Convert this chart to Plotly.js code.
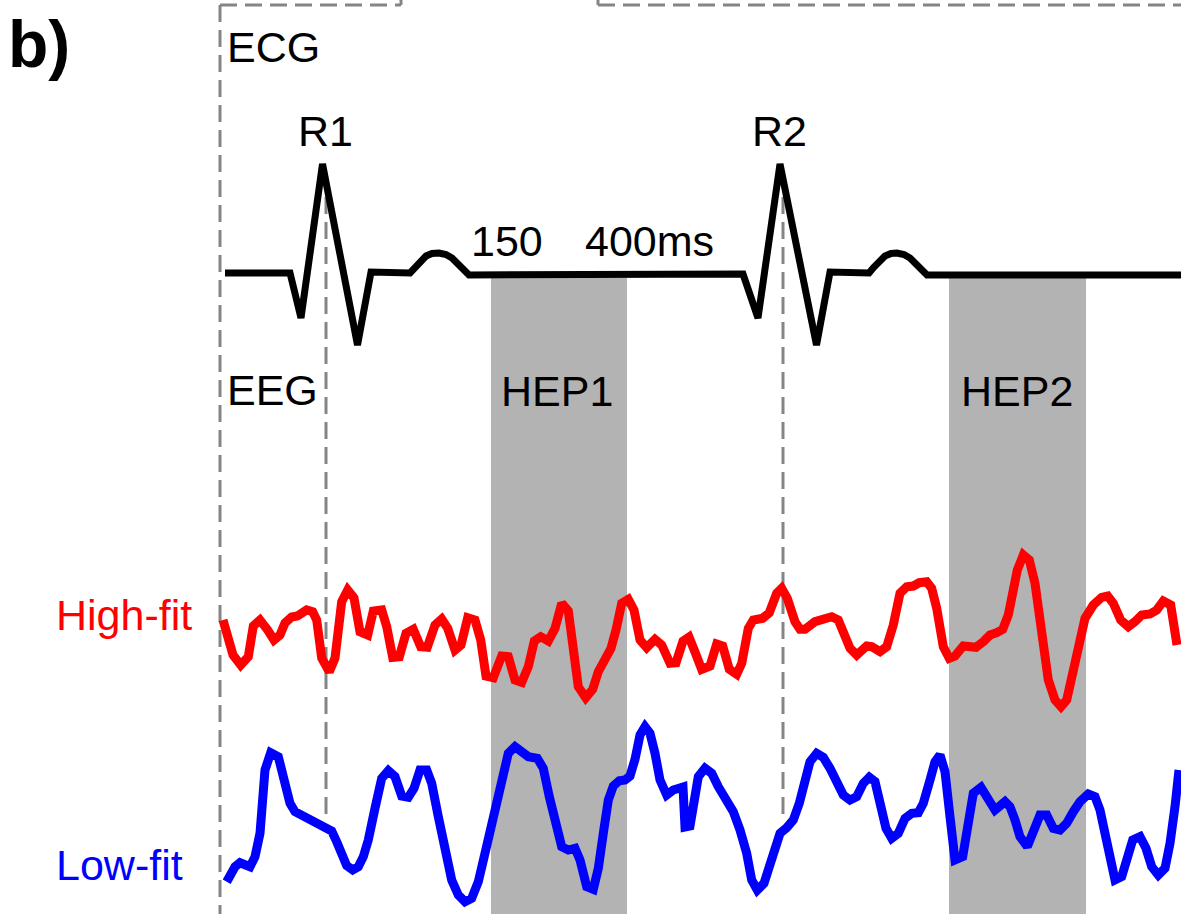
<!DOCTYPE html>
<html>
<head>
<meta charset="utf-8">
<script src="https://cdn.plot.ly/plotly-3.0.1.min.js"></script>
<style>html,body{margin:0;padding:0;background:#fff;}#chart{width:1181px;height:914px;}</style>
</head>
<body>
<div id="chart"></div>
<script>
// ECG trace (time in px units, amplitude in px units, screen-down positive)
const ecgX = [225, 290, 301, 322.5, 357.5, 371, 410, 415, 420, 426, 432, 439, 446, 452, 458, 464, 469,
              743, 758, 780, 816.5, 830, 869, 874, 879, 885, 891, 897, 904, 910, 916, 922, 927, 1181];
const ecgY = [273, 273, 318, 164, 345, 272, 273, 267, 261, 256, 253.5, 253, 254.5, 258, 264, 270, 275,
              274, 318, 164, 345, 272, 273, 267, 261, 256, 253.5, 253, 254.5, 258, 264, 270, 275, 275];

// High-fit EEG trace
const highFitX = [223,233,240.7,248.3,253.3,260,267.7,274,280,285,291.7,297.3,306.7,312.7,316.7,321.7,329.3,335,341.7,347.7,354,360,367.7,373.3,381.7,386.7,392.7,399.3,406,413.3,420.7,427.3,435,441.7,447.7,455,461,467.7,475,480.7,486,493.3,501.7,508.3,515,521.7,528.3,534.3,540.7,548.3,555,561.7,568.3,573.3,578.3,585.7,592.7,598.3,605,611,616,621.7,628.3,634,640,646.7,655,661.7,670,676,683,689,695,701.7,710,716.7,722.7,729.3,736.7,741.7,748.3,753.3,762.7,769.3,776.7,781.7,787.3,795,800,805,815,823.3,831.7,838.3,843.3,850,856.7,866.7,871.7,880,886.7,893.3,900,906.7,913.3,919.3,926.7,931.7,936.7,943.3,949.3,955,963.3,970,976,983.3,990,996.7,1002.7,1008.3,1013.3,1017.3,1023.3,1029.3,1035,1041.7,1048.3,1055,1061,1066.7,1072.7,1080,1085,1093.3,1101.7,1107.7,1113.3,1120.7,1128.3,1135,1141.7,1150,1156.7,1163.3,1170.7,1177];
const highFitY = [620,655,665,656.7,626,620,630,640,635,623,617,616,610,611.7,620,658,671.7,658,601.7,590,598,631.7,635,611,610,626.7,657.3,656.7,633.3,629.3,646.7,647.3,625,619,628.3,650,645,617.7,620,640,676,677.7,656,656.7,680,682.3,666.7,641,636.7,641,628.3,603.3,611,643.3,686.7,697.7,689.3,671.7,660,648.3,630,603.3,599.3,610,640,647.7,639.3,645,663.3,662.7,641,637,652,669.3,666,644,646,669.3,674.3,663.3,628.3,620,618.3,612.7,593.3,588.3,598.3,621.7,629.3,629.3,621.7,619.3,616.7,620,630,648.3,655,646,646.7,651.7,646.7,625,593.3,586.7,586,582.7,581.7,588.3,608.3,646.7,658.3,656,646,646,647.3,641.7,635,632.7,629.3,615,593.3,570,555,560,583.3,626.7,680,700,706.7,700,675,636.7,618.3,605,597.3,596,603.3,620,626.7,621.7,615,614,610,601,605,645];

// Low-fit EEG trace
const lowFitX = [226.7,235,240,250,255,260,265,270.7,278.3,284,290,295,303.3,313.3,320,326,331.7,336.7,346.7,352.7,358.3,363.3,368.3,375,381.7,388.3,395,401.7,408.3,414,420,426.7,431.7,438.3,445,451.7,458.3,465,471.7,478.3,485,493.3,501.7,508.3,515,521.7,528.3,537.3,543.3,549.3,556.7,561.7,568.3,575,580,586.7,593.3,598.3,603.3,608.3,613.3,619.3,625,630,635,640,645,650,655,660,666.7,673.3,683,685,690,694,698.3,705,711.7,718.3,725,733.3,740,746.7,751.7,757.3,764,769.3,775,780,786.7,793.3,799.3,805,810,816.7,823.3,830,836.7,843.3,850,856.7,863.3,869.3,875,880,886,891.7,898.3,905,911.7,918.3,923.3,930,935,940,945,950,955,962.7,968.3,973.3,981,986.7,995,1005,1010,1015,1020,1027.3,1033.3,1040,1046.7,1053.3,1060,1066.7,1073.3,1080,1088.3,1095,1100,1105,1110,1115,1121.7,1126.7,1132.7,1140,1146,1151.7,1158.3,1165,1170,1175,1179];
const lowFitY = [881.7,866.7,862.7,866.7,856.7,833.3,770,752.7,756.7,776.7,803.3,811.7,815.7,822.7,826,827.7,831,841.7,865.7,870,866.7,856.7,840,808.3,778.3,770.7,776.7,796,797.3,788.3,770,770,783.3,816.7,853.3,880,895,901.7,898.3,881.7,853.3,818.3,775,753.3,746.7,751.7,756.7,758.3,768.3,796.7,833.3,846.7,850,848.3,860,886.7,889.3,868.3,833.3,800,786,780.7,780,776,759.3,735,726.7,733.3,753.3,780,795,790,787,827,826,800,776.7,768.3,773.3,786.7,798.3,811.7,830,853.3,880,890,883.3,868.3,846.7,833.3,827.7,820,803.3,780,761.7,753.3,757.3,768.3,781.7,795,800,796.7,783.3,777.3,781.7,800,828.3,838.3,833.3,818.3,813.3,812.7,803.3,780,761.7,755,771.7,816.7,860,856.7,826.7,793.3,787.3,798.3,810,801.7,806.7,820,836.7,846.7,833.3,815,815,828.3,830,823.3,811.7,801.7,794,796.7,810,833.3,866.7,880,876.7,856.7,840,836.7,848.3,866.7,875,868.3,843.3,806.7,770];

// HEP windows (150–400 ms after each R peak)
const hepStart = [491, 949];
const hepEnd = [627, 1086];
const hepLabels = ['HEP1', 'HEP2'];
const rPeakX = [326, 783];
const rLabels = ['R1', 'R2'];

const FONT = 'Liberation Sans, Arial, Helvetica, sans-serif';
const GRAY = '#858585';
const dashStyle = {color: GRAY, width: 3, dash: '17px,8px'};

const traces = [
  {x: ecgX, y: ecgY, mode: 'lines', line: {color: '#000000', width: 7}, hoverinfo: 'skip'},
  {x: highFitX, y: highFitY, mode: 'lines', line: {color: '#ff0000', width: 9}, hoverinfo: 'skip'},
  {x: lowFitX, y: lowFitY, mode: 'lines', line: {color: '#0000ff', width: 9}, hoverinfo: 'skip'}
];

const shapes = [];
hepStart.forEach((s, i) => {
  shapes.push({type: 'rect', xref: 'x', yref: 'y', x0: s, x1: hepEnd[i], y0: 278, y1: 914,
               fillcolor: '#b3b3b3', line: {width: 0}, layer: 'below'});
});
// dashed frame lines
shapes.push({type: 'line', xref: 'x', yref: 'y', x0: 220, x1: 220, y0: 5, y1: 914, line: dashStyle, layer: 'below'});
shapes.push({type: 'line', xref: 'x', yref: 'y', x0: 220, x1: 401, y0: 5, y1: 5, line: dashStyle, layer: 'below'});
shapes.push({type: 'line', xref: 'x', yref: 'y', x0: 401, x1: 401, y0: 0, y1: 5, line: {color: GRAY, width: 3}, layer: 'below'});
shapes.push({type: 'line', xref: 'x', yref: 'y', x0: 598, x1: 1181, y0: 5, y1: 5, line: dashStyle, layer: 'below'});
shapes.push({type: 'line', xref: 'x', yref: 'y', x0: 598, x1: 598, y0: 0, y1: 5, line: {color: GRAY, width: 3}, layer: 'below'});
rPeakX.forEach(x => {
  shapes.push({type: 'line', xref: 'x', yref: 'y', x0: x, x1: x, y0: 172, y1: 818, line: dashStyle, layer: 'below'});
});

function ann(text, x, y, opts) {
  return Object.assign({text: text, x: x, y: y, xref: 'x', yref: 'y', showarrow: false,
    xanchor: 'left', yanchor: 'middle', font: {family: FONT, size: 43, color: '#000'}}, opts || {});
}
const annotations = [
  ann('<b>b)</b>', 6, 44, {font: {family: FONT, size: 66, color: '#000'}}),
  ann('ECG', 225, 47),
  ann(rLabels[0], 296, 131),
  ann(rLabels[1], 750, 131),
  ann('150', 469, 241),
  ann('400ms', 583, 241),
  ann('EEG', 225, 390),
  ann(hepLabels[0], (hepStart[0] + hepEnd[0]) / 2 - 2, 391, {xanchor: 'center'}),
  ann(hepLabels[1], (hepStart[1] + hepEnd[1]) / 2 - 1, 391, {xanchor: 'center'}),
  ann('High-fit', 54, 615, {font: {family: FONT, size: 43, color: '#ff0000'}}),
  ann('Low-fit', 54, 865, {font: {family: FONT, size: 43, color: '#0000ff'}})
];

const layout = {
  width: 1181, height: 914,
  margin: {l: 0, r: 0, t: 0, b: 0, pad: 0},
  paper_bgcolor: '#ffffff', plot_bgcolor: '#ffffff',
  showlegend: false,
  xaxis: {range: [0, 1181], visible: false, fixedrange: true},
  yaxis: {range: [914, 0], visible: false, fixedrange: true},
  shapes: shapes,
  annotations: annotations
};

Plotly.newPlot('chart', traces, layout, {displayModeBar: false, staticPlot: true});
</script>
</body>
</html>
